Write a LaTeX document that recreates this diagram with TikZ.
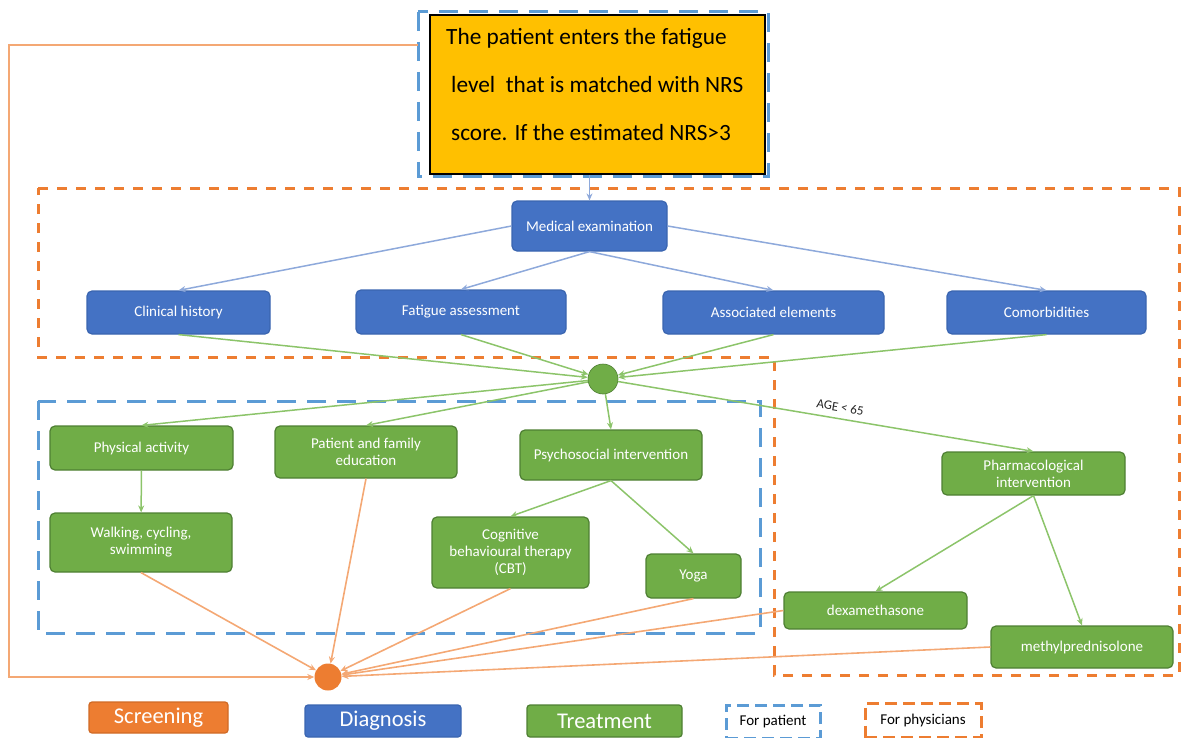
\documentclass[tikz,border=0pt]{standalone}
\usepackage{fontspec}
\setmainfont{Carlito}
\usetikzlibrary{arrows.meta}
\definecolor{cblue}{HTML}{4472C4}
\definecolor{cblueD}{HTML}{3A65B0}
\definecolor{cgreen}{HTML}{70AD47}
\definecolor{cgreenD}{HTML}{4E7F33}
\definecolor{corange}{HTML}{ED7D31}
\definecolor{corangeD}{HTML}{D06A25}
\definecolor{cyellow}{HTML}{FFC000}
\definecolor{cdash}{HTML}{5B9BD5}
\definecolor{lblue}{HTML}{8EA9DB}
\definecolor{lgreen}{HTML}{8CC46A}
\definecolor{lorange}{HTML}{F4A874}
\tikzset{
  bx/.style={rounded corners=5pt, text=white, align=center, font=\fontsize{15}{17}\selectfont, inner sep=2pt, line width=1.2pt},
  bluebox/.style={bx, fill=cblue, draw=cblueD},
  greenbox/.style={bx, fill=cgreen, draw=cgreenD},
  tipstyle/.style={-{Stealth[length=7pt,width=6pt]}},
  bl/.style={draw=lblue, line width=1.5pt, tipstyle},
  gl/.style={draw=lgreen, line width=1.5pt, tipstyle},
  ol/.style={draw=lorange, line width=1.6pt, tipstyle},
  odash/.style={draw=corange, line width=3pt, dash pattern=on 10pt off 9pt},
  bdash/.style={draw=cdash, line width=3pt, dash pattern=on 19pt off 11pt},
  lbdash/.style={draw=cdash, line width=3pt, dash pattern=on 12pt off 6pt},
  lodash/.style={draw=corange, line width=3pt, dash pattern=on 12pt off 6pt},
  legbox/.style={rounded corners=3pt, text=white, font=\fontsize{22.5}{24}\selectfont, line width=1.2pt, inner sep=0pt},
}
\begin{document}
\begin{tikzpicture}[x=1pt,y=-1pt]
\useasboundingbox (0,0) rectangle (1182,738);

% frames
\draw[odash] (38,188) -- (1179,188) -- (1179,675) -- (774,675) -- (774,357) -- (38,357) -- cycle;
\draw[bdash] (38,401) rectangle (760,633);
\draw[bdash] (418,12) rectangle (768,177);

% yellow box
\node[fill=cyellow, draw=black, line width=1.6pt, minimum width=335, minimum height=159, inner sep=0pt] (yb) at (597.5,94.5) {};
\node[anchor=north west, align=left, font=\fontsize{23.3}{48}\selectfont, inner sep=0pt] (yt) at (446,28)
  {The patient enters the fatigue\\\hspace{5pt}level\ \ that is matched with NRS\\\hspace{5pt}score. If the estimated NRS>3};

% blue nodes
\node[bluebox, minimum width=155, minimum height=50] (me) at (589.5,226) {Medical examination};
\node[bluebox, minimum width=183, minimum height=43] (ch) at (178.5,312.5) {Clinical history};
\node[bluebox, minimum width=210, minimum height=44] (fa) at (461,312) {Fatigue assessment};
\node[bluebox, minimum width=221, minimum height=43] (ae) at (773.5,312.5) {Associated elements};
\node[bluebox, minimum width=199, minimum height=43] (co) at (1046.5,312.5) {Comorbidities};

% circles
\node[circle, fill=cgreen, draw=cgreenD, line width=0.6pt, minimum size=30, inner sep=0pt] (gc) at (603,379) {};
\node[circle, fill=corange, minimum size=27, inner sep=0pt] (oc) at (328,677) {};

% green nodes
\node[greenbox, minimum width=183, minimum height=44] (pa) at (141.5,448) {Physical activity};
\node[greenbox, minimum width=182, minimum height=52] (pe) at (366,452) {Patient and family\\education};
\node[greenbox, minimum width=182, minimum height=50] (ps) at (611,455) {Psychosocial intervention};
\node[greenbox, minimum width=182, minimum height=59] (wa) at (141,542.5) {Walking, cycling,\\swimming};
\node[greenbox, minimum width=157, minimum height=71] (cbt) at (510.5,552.5) {Cognitive\\behavioural therapy\\(CBT)};
\node[greenbox, minimum width=95, minimum height=44] (yo) at (693.5,576) {Yoga};
\node[greenbox, minimum width=183, minimum height=43] (ph) at (1033.5,473.5) {Pharmacological\\intervention};
\node[greenbox, minimum width=183, minimum height=37] (dx) at (875.5,610.5) {dexamethasone};
\node[greenbox, minimum width=182, minimum height=42] (mp) at (1082,647) {methylprednisolone};

% blue connectors
\draw[bl] (me.north |- yb.south) -- (me.north);
\draw[bl] (me.west) -- (ch.north);
\draw[bl] (me.south) -- (fa.north);
\draw[bl] (me.south) -- (ae.north);
\draw[bl] (me.east) -- (co.north);

% green into circle
\draw[gl] (ch.south) -- (gc);
\draw[gl] (fa.south) -- (gc);
\draw[gl] (ae.south) -- (gc);
\draw[gl] (co.south) -- (gc);

% green out of circle
\draw[gl] (gc) -- (pa.north);
\draw[gl] (gc) -- (pe.north);
\draw[gl] (gc) -- (ps.north);
\draw[gl] (gc) -- node[pos=0.53, above, sloped, font=\fontsize{13}{14}\selectfont, text=black!85, yshift=3pt] (age) {AGE < 65} (ph.north);

\draw[gl] (pa) -- (wa);
\draw[gl] (ps.south) -- (cbt.north);
\draw[gl] (ps.south) -- (yo.north);
\draw[gl] (ph.south) -- (dx.north);
\draw[gl] (ph.south) -- (mp.north);

% orange into screening circle
\coordinate (fb) at (418,45);
\coordinate (c1) at (9,45);
\coordinate (c2) at (9,677);
\draw[ol] (fb) -- (c1) -- (c2) -- (oc);
\draw[ol] (wa.south) -- (oc);
\draw[ol] (pe.south) -- (oc);
\draw[ol] (cbt.south) -- (oc);
\draw[ol] (yo.south) -- (oc);
\draw[ol] (dx.west) -- (oc);
\draw[ol] (mp.west) -- (oc);

% legend
\node[legbox, fill=corange, draw=corangeD, minimum width=139, minimum height=31] (lsc) at (158.5,717.5) {Screening};
\node[legbox, fill=cblue, draw=cblueD, minimum width=156, minimum height=32] (ldg) at (383,721) {Diagnosis};
\node[legbox, fill=cgreen, draw=cgreenD, minimum width=155, minimum height=32] (ltr) at (604.5,721) {Treatment};
\node[lbdash, minimum width=94, minimum height=33, font=\fontsize{15}{17}\selectfont, inner sep=0pt] (lfp) at (773,721.5) {For patient};
\node[lodash, minimum width=116, minimum height=34, font=\fontsize{15}{17}\selectfont, inner sep=0pt] (lfph) at (923,720.5) {For physicians};
\end{tikzpicture}
\end{document}
